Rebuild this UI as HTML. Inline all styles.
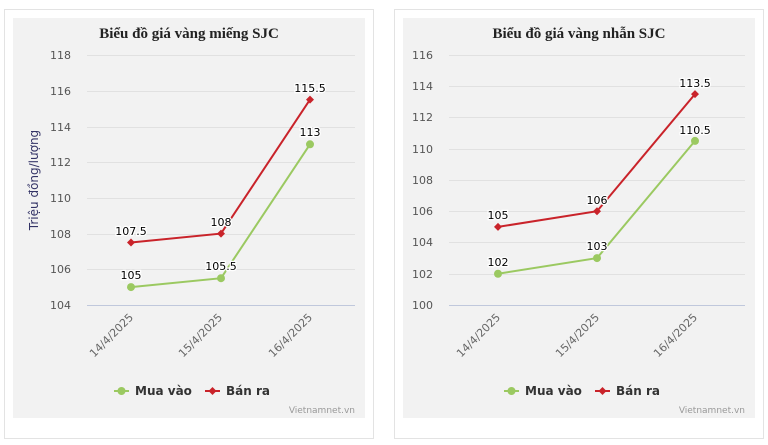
<!DOCTYPE html>
<html><head><meta charset="utf-8"><style>
html,body{margin:0;padding:0;background:#fff;}
svg{display:block;font-family:"DejaVu Sans","Liberation Sans",sans-serif;}
</style></head><body>
<svg width="768" height="445" viewBox="0 0 768 445" xmlns="http://www.w3.org/2000/svg">
<rect x="4.5" y="9.5" width="369" height="429" fill="#fff" stroke="#e3e3e3"/>
<rect x="13" y="18" width="352" height="400" fill="#f2f2f2"/>
<rect x="394.5" y="9.5" width="369" height="429" fill="#fff" stroke="#e3e3e3"/>
<rect x="403" y="18" width="352" height="400" fill="#f2f2f2"/>

<!-- LEFT -->
<text x="189" y="38" text-anchor="middle" font-family="Liberation Serif,serif" font-weight="bold" font-size="15" fill="#222">Biểu đồ giá vàng miếng SJC</text>
<g stroke="#e1e1e1" stroke-width="1">
<line x1="87" x2="355" y1="55.5" y2="55.5"/><line x1="87" x2="355" y1="91.5" y2="91.5"/><line x1="87" x2="355" y1="127.5" y2="127.5"/><line x1="87" x2="355" y1="162.5" y2="162.5"/><line x1="87" x2="355" y1="198.5" y2="198.5"/><line x1="87" x2="355" y1="234.5" y2="234.5"/><line x1="87" x2="355" y1="269.5" y2="269.5"/>
</g>
<line x1="87" x2="355" y1="305.5" y2="305.5" stroke="#c0c8dc"/>
<g font-size="11" fill="#555" text-anchor="end">
<text x="71" y="59">118</text><text x="71" y="95">116</text><text x="71" y="131">114</text><text x="71" y="166">112</text><text x="71" y="202">110</text><text x="71" y="238">108</text><text x="71" y="273">106</text><text x="71" y="309">104</text>
</g>
<text transform="translate(38,180) rotate(-90)" text-anchor="middle" font-size="12" fill="#333366">Triệu đồng/lượng</text>
<g font-size="11" fill="#666" text-anchor="end">
<text transform="translate(134,318) rotate(-45)">14/4/2025</text>
<text transform="translate(223,318) rotate(-45)">15/4/2025</text>
<text transform="translate(313,318) rotate(-45)">16/4/2025</text>
</g>
<polyline points="131,287.1 221,278.2 310,144.3" fill="none" stroke="#9bc961" stroke-width="2"/>
<polyline points="131,242.5 221,233.6 310,99.6" fill="none" stroke="#c9232a" stroke-width="2"/>
<g fill="#9bc961"><circle cx="131" cy="287.1" r="4"/><circle cx="221" cy="278.2" r="4"/><circle cx="310" cy="144.3" r="4"/></g>
<g fill="#c9232a"><path d="M131,238.5 L135,242.5 L131,246.5 L127,242.5Z"/><path d="M221,229.6 L225,233.6 L221,237.6 L217,233.6Z"/><path d="M310,95.6 L314,99.6 L310,103.6 L306,99.6Z"/></g>
<g font-size="11" fill="#000" text-anchor="middle" stroke="#fff" stroke-width="2.5" paint-order="stroke">
<text x="131" y="279">105</text><text x="221" y="270">105.5</text><text x="310" y="136">113</text>
<text x="131" y="235">107.5</text><text x="221" y="226">108</text><text x="310" y="92">115.5</text>
</g>
<line x1="114" x2="129" y1="391" y2="391" stroke="#9bc961" stroke-width="2"/><circle cx="121.5" cy="391" r="4" fill="#9bc961"/>
<text x="135" y="395" font-size="12" font-weight="bold" fill="#333">Mua vào</text>
<line x1="205" x2="220" y1="391" y2="391" stroke="#c9232a" stroke-width="2"/><path d="M212.5,387 L216.5,391 L212.5,395 L208.5,391Z" fill="#c9232a"/>
<text x="226" y="395" font-size="12" font-weight="bold" fill="#333">Bán ra</text>
<text x="355" y="413" text-anchor="end" font-size="9" fill="#999">Vietnamnet.vn</text>

<!-- RIGHT -->
<text x="579" y="38" text-anchor="middle" font-family="Liberation Serif,serif" font-weight="bold" font-size="15" fill="#222">Biểu đồ giá vàng nhẫn SJC</text>
<g stroke="#e1e1e1" stroke-width="1">
<line x1="449" x2="745" y1="55.5" y2="55.5"/><line x1="449" x2="745" y1="86.5" y2="86.5"/><line x1="449" x2="745" y1="117.5" y2="117.5"/><line x1="449" x2="745" y1="149.5" y2="149.5"/><line x1="449" x2="745" y1="180.5" y2="180.5"/><line x1="449" x2="745" y1="211.5" y2="211.5"/><line x1="449" x2="745" y1="242.5" y2="242.5"/><line x1="449" x2="745" y1="274.5" y2="274.5"/>
</g>
<line x1="449" x2="745" y1="305.5" y2="305.5" stroke="#c0c8dc"/>
<g font-size="11" fill="#555" text-anchor="end">
<text x="433" y="59">116</text><text x="433" y="90">114</text><text x="433" y="121">112</text><text x="433" y="153">110</text><text x="433" y="184">108</text><text x="433" y="215">106</text><text x="433" y="246">104</text><text x="433" y="278">102</text><text x="433" y="309">100</text>
</g>
<g font-size="11" fill="#666" text-anchor="end">
<text transform="translate(501,318) rotate(-45)">14/4/2025</text>
<text transform="translate(600,318) rotate(-45)">15/4/2025</text>
<text transform="translate(698,318) rotate(-45)">16/4/2025</text>
</g>
<polyline points="498,273.75 597,258.1 695,140.9" fill="none" stroke="#9bc961" stroke-width="2"/>
<polyline points="498,226.9 597,211.25 695,94.1" fill="none" stroke="#c9232a" stroke-width="2"/>
<g fill="#9bc961"><circle cx="498" cy="273.75" r="4"/><circle cx="597" cy="258.1" r="4"/><circle cx="695" cy="140.9" r="4"/></g>
<g fill="#c9232a"><path d="M498,222.9 L502,226.9 L498,230.9 L494,226.9Z"/><path d="M597,207.25 L601,211.25 L597,215.25 L593,211.25Z"/><path d="M695,90.1 L699,94.1 L695,98.1 L691,94.1Z"/></g>
<g font-size="11" fill="#000" text-anchor="middle" stroke="#fff" stroke-width="2.5" paint-order="stroke">
<text x="498" y="266">102</text><text x="597" y="250">103</text><text x="695" y="134">110.5</text>
<text x="498" y="219">105</text><text x="597" y="204">106</text><text x="695" y="87">113.5</text>
</g>
<line x1="504" x2="519" y1="391" y2="391" stroke="#9bc961" stroke-width="2"/><circle cx="511.5" cy="391" r="4" fill="#9bc961"/>
<text x="525" y="395" font-size="12" font-weight="bold" fill="#333">Mua vào</text>
<line x1="595" x2="610" y1="391" y2="391" stroke="#c9232a" stroke-width="2"/><path d="M602.5,387 L606.5,391 L602.5,395 L598.5,391Z" fill="#c9232a"/>
<text x="616" y="395" font-size="12" font-weight="bold" fill="#333">Bán ra</text>
<text x="745" y="413" text-anchor="end" font-size="9" fill="#999">Vietnamnet.vn</text>
</svg>
</body></html>
